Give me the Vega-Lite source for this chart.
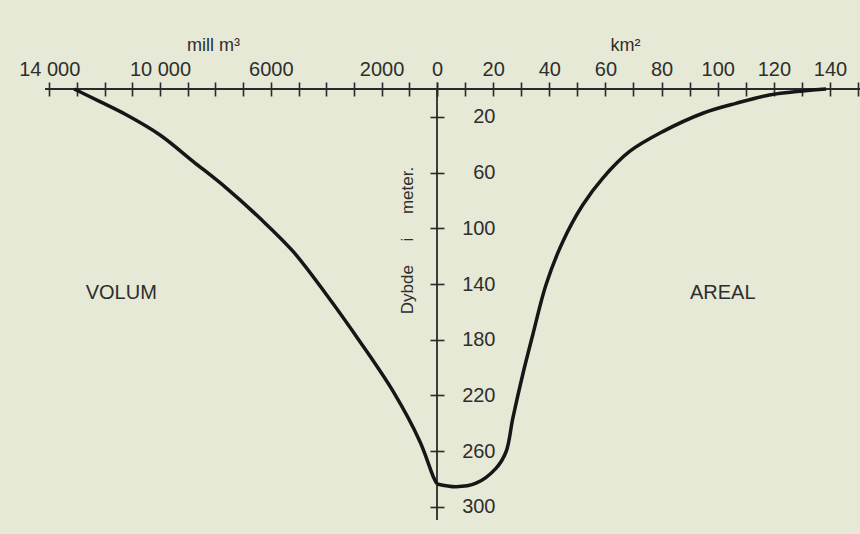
{
  "$schema": "https://vega.github.io/schema/vega-lite/v6.json",
  "width": 815,
  "height": 431,
  "autosize": {"type": "none"},
  "padding": {"left": 45, "top": 89, "right": 0, "bottom": 14},
  "background": "#e6e9d5",
  "config": {
    "view": {"stroke": null},
    "font": "Liberation Sans",
    "axis": {
      "labelFont": "Liberation Sans",
      "titleFont": "Liberation Sans",
      "labelColor": "#2e2e2e",
      "titleColor": "#2e2e2e",
      "tickColor": "#2a2a2a",
      "tickWidth": 1.6,
      "labelFontSize": 20,
      "titleFontSize": 18,
      "titleFontWeight": "normal",
      "grid": false,
      "labelOverlap": false,
      "labelFlush": false,
      "labelBound": false
    }
  },
  "datasets": {
    "volum": [
      {"volum": 0, "dybde": 283.5},
      {"volum": 134, "dybde": 278.3},
      {"volum": 614, "dybde": 253.2},
      {"volum": 1578, "dybde": 217.3},
      {"volum": 2780, "dybde": 181.4},
      {"volum": 3982, "dybde": 147.9},
      {"volum": 5188, "dybde": 116.8},
      {"volum": 6390, "dybde": 92.8},
      {"volum": 7592, "dybde": 71.3},
      {"volum": 8798, "dybde": 52.1},
      {"volum": 10000, "dybde": 33},
      {"volum": 11202, "dybde": 18.7},
      {"volum": 12166, "dybde": 9.1},
      {"volum": 13100, "dybde": 0}
    ],
    "areal": [
      {"areal": 0, "dybde": 283.5},
      {"areal": 6.8, "dybde": 285.5},
      {"areal": 13.9, "dybde": 283},
      {"areal": 21, "dybde": 272.3},
      {"areal": 24.6, "dybde": 260.4},
      {"areal": 27, "dybde": 236.4},
      {"areal": 30.5, "dybde": 205.3},
      {"areal": 34.1, "dybde": 176.6},
      {"areal": 38.8, "dybde": 140.7},
      {"areal": 44.8, "dybde": 109.6},
      {"areal": 51.9, "dybde": 83.3},
      {"areal": 59, "dybde": 64.1},
      {"areal": 68.5, "dybde": 45},
      {"areal": 80.4, "dybde": 30.6},
      {"areal": 94.7, "dybde": 17.4},
      {"areal": 106.5, "dybde": 10.3},
      {"areal": 118.4, "dybde": 4.3},
      {"areal": 130.3, "dybde": 1.4},
      {"areal": 138.6, "dybde": 0}
    ]
  },
  "layer": [
    {
      "data": {"values": [{}]},
      "mark": {"type": "rule", "color": "#2a2a2a", "strokeWidth": 1.8},
      "encoding": {
        "y": {"datum": 0, "type": "quantitative", "scale": {"domain": [0, 309.4], "reverse": true, "nice": false, "zero": false}}
      }
    },
    {
      "data": {"values": [{}]},
      "mark": {"type": "rule", "color": "#2a2a2a", "strokeWidth": 1.8},
      "encoding": {
        "x": {"datum": 0, "type": "quantitative", "scale": {"domain": [-139.65, 150.69], "nice": false, "zero": false}, "axis": null}
      }
    },
    {
      "data": {"name": "volum"},
      "mark": {"type": "line", "color": "#161616", "strokeWidth": 3.5, "interpolate": "catmull-rom"},
      "encoding": {
        "x": {
          "field": "volum", "type": "quantitative",
          "scale": {"domain": [-15271, 14152], "reverse": true, "nice": false, "zero": false},
          "axis": {
            "orient": "top", "offset": -7, "domain": false, "tickSize": 14, "labelPadding": 3,
            "values": [0,1000,2000,3000,4000,5000,6000,7000,8000,9000,10000,11000,12000,13000,14000],
            "labelExpr": "datum.value == 14000 ? '14 000' : datum.value == 10000 ? '10 000' : datum.value == 6000 ? '6000' : datum.value == 2000 ? '2000' : datum.value == 0 ? '0' : ''",
            "title": "mill m³", "titleX": 168, "titleY": -51, "titleAlign": "center", "titleBaseline": "middle", "titleAngle": 0
          }
        },
        "y": {
          "field": "dybde", "type": "quantitative",
          "scale": {"domain": [0, 309.4], "reverse": true, "nice": false, "zero": false},
          "axis": {
            "orient": "right", "offset": -430, "domain": false, "tickSize": 14, "labelPadding": 51, "labelAlign": "right", "labelBaseline": "middle",
            "values": [20,40,60,80,100,120,140,160,180,200,220,240,260,280,300],
            "labelExpr": "datum.value % 40 == 20 ? datum.label : ''",
            "title": "Dybde\u00a0\u00a0\u00a0\u00a0\u00a0i\u00a0\u00a0\u00a0\u00a0\u00a0meter.", "titleAngle": 270, "titleX": -23, "titleY": 151, "titleAlign": "center", "titleBaseline": "middle", "titleFontSize": 17
          }
        }
      }
    },
    {
      "data": {"name": "areal"},
      "mark": {"type": "line", "color": "#161616", "strokeWidth": 3.5, "interpolate": "catmull-rom"},
      "encoding": {
        "x": {
          "field": "areal", "type": "quantitative",
          "scale": {"domain": [-139.65, 150.69], "nice": false, "zero": false},
          "axis": {
            "orient": "top", "offset": -7, "domain": false, "tickSize": 14, "labelPadding": 3,
            "values": [0,10,20,30,40,50,60,70,80,90,100,110,120,130,140,150],
            "labelExpr": "datum.value >= 20 && datum.value <= 140 && datum.value % 20 == 0 ? datum.label : ''",
            "title": "km²", "titleX": 580, "titleY": -51, "titleAlign": "center", "titleBaseline": "middle", "titleAngle": 0
          }
        },
        "y": {
          "field": "dybde", "type": "quantitative",
          "scale": {"domain": [0, 309.4], "reverse": true, "nice": false, "zero": false}
        }
      }
    },
    {
      "data": {"values": [{}]},
      "mark": {"type": "text", "text": "VOLUM", "fontSize": 20, "color": "#2e2e2e", "align": "center", "baseline": "middle"},
      "encoding": {
        "x": {"datum": 11400, "type": "quantitative", "scale": {"domain": [-15271, 14152], "reverse": true, "nice": false, "zero": false}, "axis": null},
        "y": {"datum": 146.5, "type": "quantitative", "scale": {"domain": [0, 309.4], "reverse": true, "nice": false, "zero": false}}
      }
    },
    {
      "data": {"values": [{}]},
      "mark": {"type": "text", "text": "AREAL", "fontSize": 20, "color": "#2e2e2e", "align": "center", "baseline": "middle"},
      "encoding": {
        "x": {"datum": 101.8, "type": "quantitative", "scale": {"domain": [-139.65, 150.69], "nice": false, "zero": false}, "axis": null},
        "y": {"datum": 146.5, "type": "quantitative", "scale": {"domain": [0, 309.4], "reverse": true, "nice": false, "zero": false}}
      }
    }
  ],
  "resolve": {"scale": {"x": "independent"}}
}
